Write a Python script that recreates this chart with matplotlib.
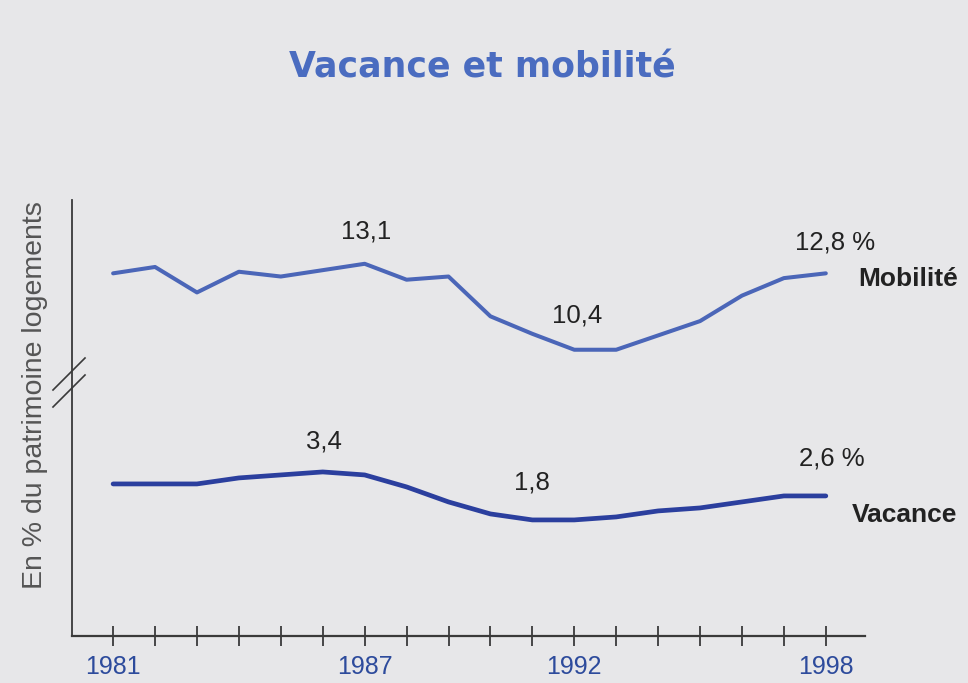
import matplotlib.pyplot as plt
from matplotlib.lines import Line2D

# data
years = list(range(1981, 1999))
mobilite = [12.8, 13.0, 12.2, 12.85, 12.7, 12.9, 13.1, 12.6, 12.7, 11.45,
            10.9, 10.4, 10.4, 10.85, 11.3, 12.1, 12.65, 12.8]
vacance = [3.0, 3.0, 3.0, 3.2, 3.3, 3.4, 3.3, 2.9, 2.4, 2.0,
           1.8, 1.8, 1.9, 2.1, 2.2, 2.4, 2.6, 2.6]
year_labels = {1981: "1981", 1987: "1987", 1992: "1992", 1998: "1998"}

# annotated points: year -> (text suffix, offset in points)
mob_notes = {1987: ("", (1, 23)), 1992: ("", (2, 25)), 1998: (" %", (7, 22))}
vac_notes = {1986: ("", (1, 22)), 1991: ("", (0, 27)), 1998: (" %", (4, 27))}

bg = "#e7e7e9"
col_mob = "#4b66b8"
col_vac = "#2b3f9e"
col_title = "#4a6cc0"
col_years = "#2d4b9c"
col_axis = "#3a3a3a"

plt.rcParams["font.family"] = ["Liberation Sans", "DejaVu Sans"]

fig = plt.figure(figsize=(9.68, 6.83), dpi=100, facecolor=bg)
ax_top = fig.add_axes([0.0744, 0.432, 0.819, 0.275], facecolor="none")
ax_bot = fig.add_axes([0.0744, 0.0688, 0.819, 0.3632], facecolor="none")

xlim = (1980.02, 1998.93)

ax_top.plot(years, mobilite, color=col_mob, lw=2.9, solid_joinstyle="round",
            solid_capstyle="round")
ax_top.set_xlim(xlim)
ax_top.set_ylim(9.2, 15.1)

ax_bot.plot(years, vacance, color=col_vac, lw=3.4, solid_joinstyle="round",
            solid_capstyle="round")
ax_bot.set_xlim(xlim)
ax_bot.set_ylim(-2.07, 6.2)


def fmt(v, suffix):
    return f"{v:.1f}".replace(".", ",") + suffix


for ax, vals, notes in ((ax_top, mobilite, mob_notes), (ax_bot, vacance, vac_notes)):
    for yr, (suffix, off) in notes.items():
        v = vals[years.index(yr)]
        ax.annotate(fmt(v, suffix), (yr, v), xytext=off, textcoords="offset points",
                    ha="center", va="center", fontsize=18.5, color="#222222")

# series names at the right end
ax_top.annotate("Mobilité", (years[-1], mobilite[-1]), xytext=(23, -4),
                textcoords="offset points", ha="left", va="center",
                fontsize=19, fontweight="bold", color="#222222")
ax_bot.annotate("Vacance", (years[-1], vacance[-1]), xytext=(19, -14),
                textcoords="offset points", ha="left", va="center",
                fontsize=19, fontweight="bold", color="#222222")

# axes styling
for ax in (ax_top, ax_bot):
    for s in ("top", "right"):
        ax.spines[s].set_visible(False)
    ax.spines["left"].set_color(col_axis)
    ax.spines["left"].set_linewidth(1.3)
    ax.set_yticks([])

ax_top.spines["bottom"].set_visible(False)
ax_top.set_xticks([])

ax_bot.spines["bottom"].set_color(col_axis)
ax_bot.spines["bottom"].set_linewidth(1.6)
ax_bot.set_xticks(years)
ax_bot.set_xticklabels([year_labels.get(y, "") for y in years])
ax_bot.tick_params(axis="x", direction="inout", length=14, width=1.3,
                   color=col_axis, labelcolor=col_years, labelsize=18, pad=7)

# axis break marks
for dy in (0, 17):
    fig.add_artist(Line2D([53 / 968, 85 / 968],
                          [1 - (390 + dy) / 683, 1 - (358 + dy) / 683],
                          color=col_axis, lw=1.2))

fig.text(35 / 968, 1 - 395 / 683, "En % du patrimoine logements", rotation=90,
         ha="center", va="center", fontsize=20.5, color="#555555")

fig.text(482 / 968, 1 - 77 / 683, "Vacance et mobilité", ha="center", va="baseline",
         fontsize=25, fontweight="bold", color=col_title, family="DejaVu Sans")

fig.savefig("out.png", dpi=100, facecolor=bg)
